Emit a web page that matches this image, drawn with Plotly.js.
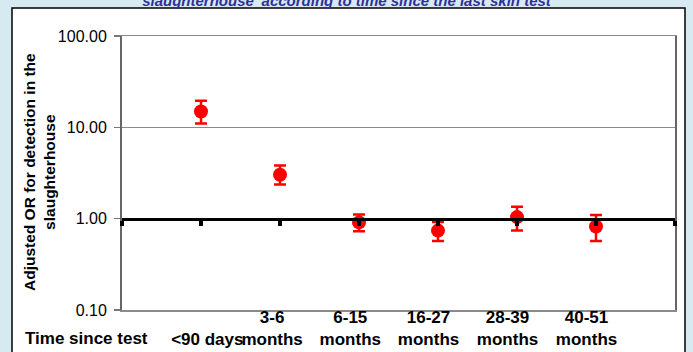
<!DOCTYPE html>
<html>
<head>
<meta charset="utf-8">
<script src="https://cdn.plot.ly/plotly-3.0.1.min.js"></script>
<style>html,body{margin:0;padding:0;background:#d7eaf1;}#chart{width:693px;height:352px;}</style>
</head>
<body>
<div id="chart"></div>
<script>
// ---- data ----
const categories = ["<90 days", "3-6 months", "6-15 months", "16-27 months", "28-39 months", "40-51 months"];
const tickLabels = [" <br>&lt;90 days", "3-6<br>months", "6-15<br>months", "16-27<br>months", "28-39<br>months", "40-51<br>months"];
const oddsRatio = [14.9, 3.03, 0.91, 0.74, 1.04, 0.82];
const upperCI   = [19.6, 3.81, 1.11, 0.92, 1.35, 1.10];
const lowerCI   = [11.0, 2.36, 0.73, 0.57, 0.74, 0.57];
const yTickVals = [0.1, 1, 10, 100];
const yTickText = ["0.10", "1.00", "10.00", "100.00"];
const firstLabel = "Time since test";
const yTitle = "Adjusted OR for detection in the<br>slaughterhouse";
const titleText = "slaughterhouse' according to time since the last skin test";

// ---- derived ----
const xPos = categories.map((c, i) => i + 1);
const errPlus = oddsRatio.map((v, i) => upperCI[i] - v);
const errMinus = oddsRatio.map((v, i) => v - lowerCI[i]);
const labelOffset = [0.08, -0.1, -0.11, -0.12, -0.12, -0.12];
const labelPos = xPos.map((x, i) => x + labelOffset[i]);
const boundaryTicks = [0, 1, 2, 3, 4, 5, 6, 7];

const F = "Arial, 'Liberation Sans', sans-serif";
const L = 122, R = 18, T = 36, B = 42, W = 693, H = 352;
const pw = W - L - R, ph = H - T - B;
const px = v => (v - L) / pw;          // page x -> paper
const py = v => (H - B - v) / ph;      // page y -> paper

const traces = [
  {
    x: xPos, y: oddsRatio, type: "scatter", mode: "markers",
    xaxis: "x", yaxis: "y",
    marker: {color: "#ff0000", size: 14},
    error_y: {type: "data", symmetric: false, array: errPlus, arrayminus: errMinus,
              color: "#ff0000", thickness: 2.5, width: 6},
    hovertemplate: "%{text}: %{y}<extra></extra>", text: categories,
    cliponaxis: false
  },
  {x: [null], y: [null], xaxis: "x2", yaxis: "y", showlegend: false, hoverinfo: "skip"}
];

const layout = {
  width: W, height: H,
  margin: {l: L, r: R, t: T, b: B},
  paper_bgcolor: "#d7eaf1",
  plot_bgcolor: "#ffffff",
  showlegend: false,
  font: {family: F, color: "#000000"},
  title: {
    text: "<b><i>" + titleText + "</i></b>",
    font: {family: F, size: 15, color: "#2f2f9a"},
    x: 0.5, xref: "container", y: 0.999, yref: "container", yanchor: "middle"
  },
  // axis running along OR = 1
  xaxis: {
    range: [0, 7], anchor: "free", position: 1 / 3,
    showline: true, linecolor: "#000000", linewidth: 3.5,
    ticks: "outside", tickvals: boundaryTicks, ticklen: 5, tickwidth: 3.5, tickcolor: "#000000",
    showticklabels: false, showgrid: false, zeroline: false, layer: "above traces"
  },
  // bottom label axis
  xaxis2: {
    range: [0, 7], overlaying: "x", anchor: "y", side: "bottom",
    showline: true, linecolor: "#8a8a8a", linewidth: 1.5, mirror: true,
    ticks: "", tickvals: labelPos, ticktext: tickLabels, tickangle: 0,
    tickfont: {family: F, size: 17, color: "#000000", weight: "bold"},
    ticklabelstandoff: -9,
    showgrid: false, zeroline: false
  },
  yaxis: {
    type: "log", range: [-1, 2],
    tickvals: yTickVals, ticktext: yTickText,
    tickfont: {family: F, size: 16, color: "#000000"},
    ticks: "outside", ticklen: 6, tickcolor: "#777777", tickwidth: 1.5,
    ticklabelstandoff: 4,
    showline: true, linecolor: "#666666", linewidth: 2, mirror: true,
    showgrid: true, gridcolor: "#8a8a8a", gridwidth: 1.5, zeroline: false
  },
  shapes: [
    {type: "rect", xref: "paper", yref: "paper", layer: "below",
     x0: px(12), x1: px(685), y0: py(360), y1: py(8),
     line: {color: "#000000", width: 1.5}, fillcolor: "#ffffff"}
  ],
  annotations: [
    {text: "<b>" + firstLabel + "</b>", xref: "paper", yref: "paper",
     x: px(86), y: py(350), xanchor: "center", yanchor: "bottom",
     showarrow: false, font: {family: F, size: 17, color: "#000000"}},
    {text: "<b>" + yTitle + "</b>", xref: "paper", yref: "paper",
     x: px(39), y: py(172), xanchor: "center", yanchor: "middle", textangle: -90,
     showarrow: false, font: {family: F, size: 15.5, color: "#000000"}}
  ]
};

Plotly.newPlot("chart", traces, layout, {displayModeBar: false, staticPlot: true});
</script>
</body>
</html>
